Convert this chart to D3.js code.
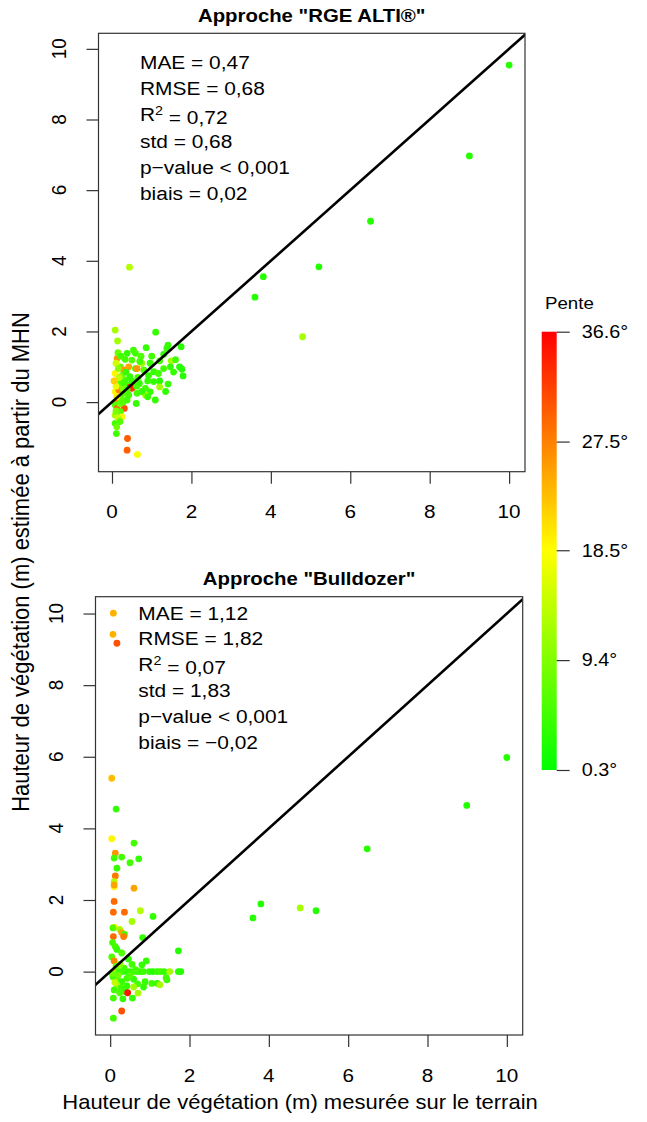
<!DOCTYPE html>
<meta charset="utf-8">
<script src="https://d3js.org/d3.v7.min.js"></script>
<style>
  body { margin: 0; background: #fff; }
  text { font-family: "Liberation Sans", Arial, sans-serif; fill: #000; }
</style>

<div id="my_dataviz"></div>

<script>

// ---- data ----
// panel 1 : Approche "RGE ALTI®"
var rgeX = [10.0, 9.0, 6.51, 5.21, 3.81, 3.60, 4.80, 0.44,
  0.08, 0.14, 1.10, 0.54, 0.86, 1.74, 1.41, 0.59, 0.73, 0.38, 0.13, 0.33,
  0.50, 0.75, 0.96, 1.20, 1.49, 1.70, 1.79, 1.47, 1.30, 0.21, 0.08, 0.29,
  0.42, 0.59, 0.80, 1.05, 1.17, 1.05, 1.20, 1.20, 1.41, 0.13, 0.21, 0.33,
  0.44, 0.54, 0.69, 0.84, 0.96, 0.08, 0.17, 0.50, 0.46, 0.29, 0.42, 0.63,
  0.84, 1.09, 0.61, 0.13, 0.23, 0.38, 0.08, 0.13, 0.31, 0.21, 0.08, 0.25,
  0.08, 0.11, 0.39, 0.38, 0.64, 1.76, 1.38, 0.90, 0.63,
  0.10, 0.16, 0.25, 0.35, 0.18, 0.10, 0.27, 0.38, 0.12, 0.20, 0.28, 0.45,
  0.65, 0.70, 0.92, 0.15, 0.22, 0.05, 0.10, 0.15, 0.12, 0.20, 0.30, 0.50,
  0.62, 0.75, 1.30, 1.60, 1.55, 1.00, 0.90, 1.35];
var rgeY = [9.54, 6.97, 5.12, 3.83, 3.55, 2.97, 1.85, 3.82,
  2.04, 1.73, 1.98, 1.47, 1.54, 1.57, 1.61, 1.38, 1.30, 1.38, 1.24, 1.21,
  1.19, 1.10, 1.10, 1.17, 1.17, 1.00, 0.74, 1.00, 0.95, 1.00, 0.81, 0.91,
  1.00, 0.95, 0.91, 0.86, 0.81, 0.58, 0.60, 0.43, 0.51, 0.58, 0.53, 0.62,
  0.48, 0.43, 0.53, 0.39, 0.29, 0.29, 0.34, 0.39, 0.42, 0.25, 0.20, 0.25,
  0.20, 0.06, -0.04, 0.06, 0.10, 0.06, -0.08, -0.18, -0.18, -0.27, -0.37, -0.42,
  -0.60, -0.89, -1.03, -1.36, -1.48, 0.93, 1.52, 0.15, 0.95,
  1.10, 0.95, 0.75, 0.85, 0.70, 0.45, 0.40, 0.35, 0.15, -0.05, 0.00, 0.72,
  0.70, 1.15, 0.75, 1.40, 1.30, 0.60, -0.25, -0.45, -0.70, -0.55, 0.55, 0.60,
  0.45, 0.30, 1.35, 1.20, 0.85, 1.30, 0.60, 0.30];
var rgeSlope = [3, 3, 3, 3, 3, 3, 12, 13,
  12, 12, 4, 5, 4, 3, 4, 5, 6, 4, 26, 5,
  6, 12, 4, 5, 12, 3, 3, 4, 5, 7, 19, 26,
  25, 5, 6, 4, 5, 4, 3, 12, 4, 19, 6, 5,
  5, 6, 4, 5, 4, 19, 27, 33, 34, 6, 5, 5,
  12, 4, 4, 27, 7, 5, 6, 30, 31, 6, 12, 19,
  5, 5, 30, 30, 18, 3, 4, 4, 26,
  15, 10, 8, 4, 14, 17, 9, 5, 20, 8, 6, 4,
  5, 5, 4, 8, 5, 22, 9, 14, 8, 6, 5, 4,
  5, 4, 4, 5, 4, 5, 4, 4];

// panel 2 : Approche "Bulldozer"
var bullX = [10.0, 8.99, 6.48, 3.80, 3.60, 4.79, 5.19, 1.72,
  0.08, 0.07, 0.17, 0.04, 0.15, 0.04, 0.60, 0.13, 0.10, 0.29, 0.72, 0.50,
  0.17, 0.13, 0.10, 0.10, 0.10, 0.60, 0.10, 0.08, 0.36, 0.76, 1.08, 0.55,
  0.10, 0.07, 0.24, 0.29, 0.36, 0.08, 0.34, 0.82, 0.06, 0.13, 0.17, 0.29,
  0.46, 0.04, 0.91, 0.80, 0.10, 0.12,
  0.23, 0.32, 0.42, 0.50, 0.59, 0.69, 0.78, 0.84, 0.99, 1.08, 1.18, 1.26,
  1.36, 1.50, 1.72, 1.78,
  0.07, 0.18, 0.29, 0.42, 0.59, 0.88, 1.05, 1.19, 1.43, 1.41, 0.69, 0.17,
  0.27, 0.42, 0.59, 1.25, 0.84, 0.10, 0.38, 0.44, 0.24, 0.08, 0.32, 0.56,
  0.29, 0.08,
  0.15, 0.20, 0.35, 0.50, 0.65, 0.25, 0.12, 0.05, 0.55, 0.70];
var bullY = [5.98, 4.64, 3.43, 1.89, 1.50, 1.78, 1.70, 0.58,
  10.01, 9.42, 9.17, 5.40, 4.54, 3.71, 3.59, 3.31, 3.17, 3.20, 3.15, 3.04,
  2.89, 2.67, 2.51, 2.37, 2.42, 2.33, 1.96, 1.66, 1.66, 1.70, 1.54, 1.40,
  1.24, 1.22, 1.18, 1.09, 1.04, 0.98, 0.98, 0.95, 0.81, 0.70, 0.62, 0.52,
  0.35, 0.41, 0.30, 0.19, 0.30, 0.00,
  0.00, 0.00, 0.00, 0.00, 0.00, 0.00, 0.00, 0.00, 0.00, 0.00, 0.00, 0.00,
  0.00, 0.00, 0.00, 0.00,
  -0.14, -0.23, -0.28, -0.19, -0.21, -0.28, -0.33, -0.33, -0.23, -0.17, -0.34, -0.37,
  -0.46, -0.40, -0.43, -0.37, -0.43, -0.51, -0.56, -0.59, -0.59, -0.74, -0.76, -0.74,
  -1.10, -1.30,
  0.15, -0.10, 0.10, -0.10, 0.05, 0.20, -0.30, -0.05, 0.20, -0.60];
var bullSlope = [3, 3, 3, 3, 3, 12, 3, 3,
  24, 24, 31, 23, 4, 19, 5, 26, 5, 5, 4, 5,
  4, 28, 13, 19, 25, 25, 29, 29, 29, 13, 4, 12,
  19, 6, 12, 25, 5, 29, 28, 4, 5, 5, 4, 6,
  4, 6, 4, 4, 27, 23,
  4, 5, 3, 4, 5, 4, 3, 5, 4, 3, 4, 5,
  4, 12, 3, 3,
  5, 6, 4, 5, 4, 4, 5, 4, 4, 5, 5, 12,
  5, 4, 12, 12, 4, 5, 4, 35, 6, 5, 4, 4,
  31, 5,
  7, 8, 5, 6, 5, 10, 14, 8, 5, 12];

var axisTicks = [0, 2, 4, 6, 8, 10];
var slopeTicks = [0.3, 9.4, 18.5, 27.5, 36.6];

var statNames = ["MAE", "RMSE", "R", "std", "p\u2212value", "biais"];
var statOps = ["=", "=", "=", "=", "<", "="];
var rgeStats = ["0,47", "0,68", "0,72", "0,68", "0,001", "0,02"];
var bullStats = ["1,12", "1,82", "0,07", "1,83", "0,001", "\u22120,02"];

// the figure is slightly wider than tall, so text is stretched a little
var SX = 1.1;
function place(x, y, rot) {
  return "translate(" + x + "," + y + ") scale(" + SX + ",1)" + (rot ? " rotate(" + rot + ")" : "");
}

var svg = d3.select("#my_dataviz")
  .append("svg")
    .attr("width", 647)
    .attr("height", 1122);

var color = d3.scaleLinear()
  .domain([0.3, 18.45, 36.6])
  .range(["#00ff00", "#ffff00", "#ff0000"]);

// one scatter panel
function drawPanel(p) {
  var x = d3.scaleLinear().domain(p.xDom).range([p.left, p.right]);
  var y = d3.scaleLinear().domain(p.yDom).range([p.bottom, p.top]);
  var g = svg.append("g");

  g.append("clipPath").attr("id", p.id)
    .append("rect")
      .attr("x", p.left).attr("y", p.top)
      .attr("width", p.right - p.left).attr("height", p.bottom - p.top);

  // points
  var pts = d3.range(p.xs.length);
  g.selectAll("circle")
    .data(pts)
    .enter()
    .append("circle")
      .attr("cx", function(i) { return x(p.xs[i]); })
      .attr("cy", function(i) { return y(p.ys[i]); })
      .attr("r", 3.4)
      .attr("fill", function(i) { return color(p.slope[i]); });

  // 1:1 line
  g.append("line")
    .attr("clip-path", "url(#" + p.id + ")")
    .attr("x1", x(-2)).attr("y1", y(-2))
    .attr("x2", x(12)).attr("y2", y(12))
    .attr("stroke", "#000")
    .attr("stroke-width", 2.6);

  // box
  g.append("rect")
    .attr("x", p.left).attr("y", p.top)
    .attr("width", p.right - p.left).attr("height", p.bottom - p.top)
    .attr("fill", "none")
    .attr("stroke", "#333")
    .attr("stroke-width", 1.2);

  // axes
  var xa = g.append("g")
    .attr("transform", "translate(0," + p.bottom + ")")
    .call(d3.axisBottom(x).tickValues(axisTicks).tickSize(12).tickFormat(""));
  var ya = g.append("g")
    .attr("transform", "translate(" + p.left + ",0)")
    .call(d3.axisLeft(y).tickValues(axisTicks).tickSize(12).tickFormat(""));
  [xa, ya].forEach(function(a) {
    a.select(".domain").remove();
    a.selectAll("line").attr("stroke", "#333").attr("stroke-width", 1.2);
  });

  g.selectAll(".xlab")
    .data(axisTicks)
    .enter()
    .append("text")
      .attr("transform", function(d) { return place(x(d), p.bottom + 40); })
      .attr("text-anchor", "middle")
      .attr("dy", "0.35em")
      .style("font-size", "18.8px")
      .text(function(d) { return d; });

  g.selectAll(".ylab")
    .data(axisTicks)
    .enter()
    .append("text")
      .attr("transform", function(d) { return place(p.left - 40, y(d), -90); })
      .attr("text-anchor", "middle")
      .attr("dy", "0.35em")
      .style("font-size", "18.8px")
      .text(function(d) { return d; });

  // title
  g.append("text")
    .attr("transform", place((p.left + p.right) / 2, p.top - 18))
    .attr("text-anchor", "middle")
    .attr("dy", "0.35em")
    .style("font-size", "18.5px")
    .style("font-weight", "bold")
    .text(p.title);

  // stats
  statNames.forEach(function(name, i) {
    var t = g.append("text")
      .attr("transform", place(p.statX, p.statY + i * p.statGap))
      .attr("dy", "0.35em")
      .style("font-size", "19px");
    t.append("tspan").text(name);
    if (name === "R") {
      t.append("tspan").attr("dy", "-0.45em").style("font-size", "13px").text("2");
      t.append("tspan").attr("dy", "0.45em").text(" " + statOps[i] + " " + p.stats[i]);
    } else {
      t.append("tspan").text(" " + statOps[i] + " " + p.stats[i]);
    }
  });
}

drawPanel({
  id: "clipA", title: "Approche \"RGE ALTI\u00ae\"",
  left: 98.5, right: 525, top: 33.3, bottom: 471.7,
  xDom: [-0.34, 10.4], yDom: [-1.97, 10.44],
  xs: rgeX, ys: rgeY, slope: rgeSlope,
  stats: rgeStats, statX: 140, statY: 62, statGap: 26.3
});

drawPanel({
  id: "clipB", title: "Approche \"Bulldozer\"",
  left: 95.5, right: 522.7, top: 596.7, bottom: 1035,
  xDom: [-0.37, 10.4], yDom: [-1.77, 10.47],
  xs: bullX, ys: bullY, slope: bullSlope,
  stats: bullStats, statX: 138.3, statY: 613, statGap: 25.8
});

// shared axis titles
svg.append("text")
  .attr("transform", place(300, 1102))
  .attr("text-anchor", "middle")
  .attr("dy", "0.35em")
  .style("font-size", "20px")
  .text("Hauteur de v\u00e9g\u00e9tation (m) mesur\u00e9e sur le terrain");

svg.append("text")
  .attr("transform", place(21, 562, -90))
  .attr("text-anchor", "middle")
  .attr("dy", "0.35em")
  .style("font-size", "22px")
  .text("Hauteur de v\u00e9g\u00e9tation (m) estim\u00e9e \u00e0 partir du MHN");

// colour legend
var ls = d3.scaleLinear().domain([0.3, 36.6]).range([770, 331.7]);
var grad = svg.append("defs").append("linearGradient")
  .attr("id", "penteGrad")
  .attr("x1", 0).attr("y1", 1).attr("x2", 0).attr("y2", 0);
grad.selectAll("stop")
  .data(d3.range(0, 1.0001, 0.05))
  .enter()
  .append("stop")
    .attr("offset", function(d) { return d; })
    .attr("stop-color", function(d) { return color(0.3 + d * 36.3); });

svg.append("rect")
  .attr("x", 541.7).attr("y", ls(36.6))
  .attr("width", 15).attr("height", ls(0.3) - ls(36.6))
  .attr("fill", "url(#penteGrad)");

var la = svg.append("g")
  .attr("transform", "translate(556.7,0)")
  .call(d3.axisRight(ls).tickValues(slopeTicks).tickSize(13).tickFormat(""));
la.select(".domain").remove();
la.selectAll("line").attr("stroke", "#333").attr("stroke-width", 1.2);

svg.selectAll(".slab")
  .data(slopeTicks)
  .enter()
  .append("text")
    .attr("transform", function(d) { return place(581.7, ls(d)); })
    .attr("dy", "0.35em")
    .style("font-size", "18px")
    .text(function(d) { return d.toFixed(1) + "\u00b0"; });

svg.append("text")
  .attr("transform", place(545, 303))
  .attr("dy", "0.35em")
  .style("font-size", "17px")
  .text("Pente");

</script>
